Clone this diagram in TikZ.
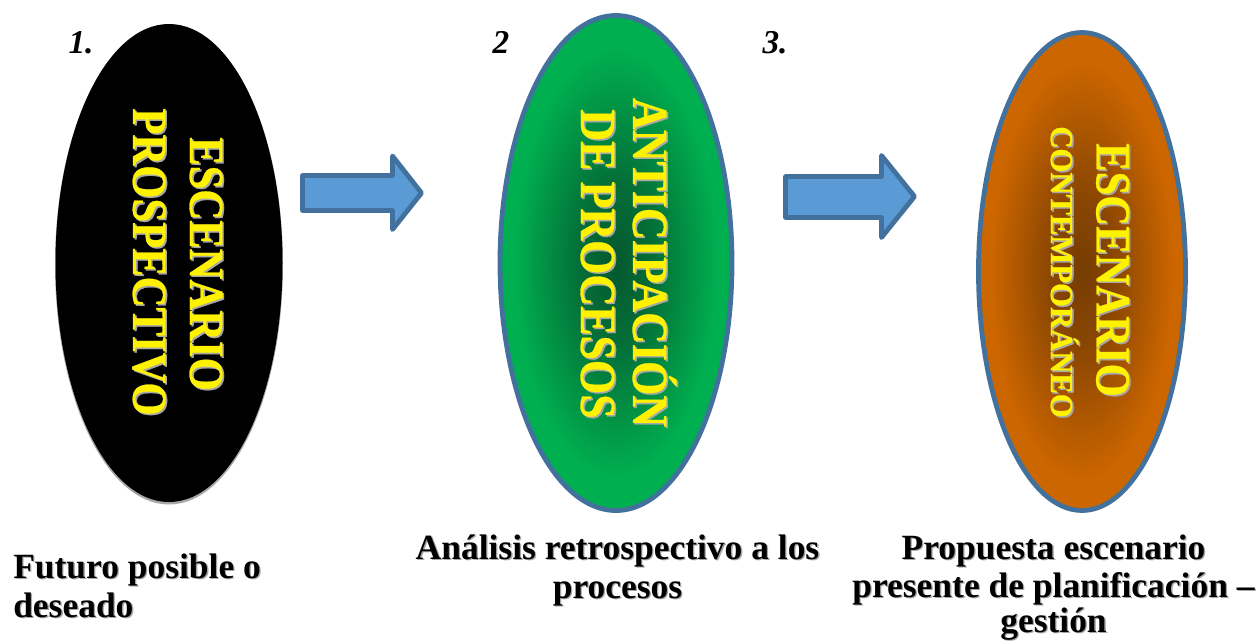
\documentclass[tikz,border=0pt]{standalone}
\usepackage{fontspec}
\setmainfont{Liberation Serif}
\usetikzlibrary{shapes.geometric}
\definecolor{edgeblue}{HTML}{41719C}
\definecolor{arrowblue}{HTML}{5B9BD5}
\definecolor{greenout}{HTML}{00B050}
\definecolor{greenin}{HTML}{05582F}
\definecolor{brownout}{HTML}{CC6600}
\definecolor{brownin}{HTML}{753C02}
\definecolor{shadowgrey}{HTML}{A8A8A8}
\newfontface\heavyface[FakeBold=0.6]{Liberation Serif Bold}
\pgfdeclareradialshading{greenglow}{\pgfpoint{0bp}{0bp}}{color(0bp)=(greenin); color(8bp)=(greenin!75!greenout); color(22bp)=(greenout); color(50bp)=(greenout)}
\pgfdeclareradialshading{brownglow}{\pgfpoint{0bp}{0bp}}{color(0bp)=(brownin); color(8bp)=(brownin!75!brownout); color(22bp)=(brownout); color(50bp)=(brownout)}
\tikzset{
  x=0.75pt,y=-0.75pt,
  oval/.style={shape=ellipse,inner sep=0pt,outer sep=0pt},
  flow/.style={draw=edgeblue,fill=arrowblue,line width=3.6pt,line join=round},
  vtext/.style={rotate=-90,anchor=center,inner sep=0pt,text=yellow},
  vshadow/.style={vtext,text=shadowgrey},
  num/.style={inner sep=0pt,anchor=base,font=\bfseries\itshape\fontsize{25}{30}\selectfont},
  caption/.style={inner sep=0pt,anchor=base,font=\bfseries\fontsize{26.6}{32}\selectfont},
  capshadow/.style={caption,text=black!35},
}
\newcommand{\vlabel}[6]{%
  \node[vshadow,font=\heavyface\fontsize{#4}{#4}\selectfont] at (#2+1.6,#3+1.6) {\scalebox{1}[#6]{#5}};
  \node[vtext,font=\heavyface\fontsize{#4}{#4}\selectfont] (#1) at (#2,#3) {\scalebox{1}[#6]{#5}};}
\newcommand{\caplabel}[5]{%
  \node[capshadow,#4] at (#2+1.3,#3+1.3) {#5};
  \node[caption,#4] (#1) at (#2,#3) {#5};}
\begin{document}
\begin{tikzpicture}
\useasboundingbox (0,0) rectangle (1258,643);
% ovals
\node[oval,fill=shadowgrey,minimum width=228*0.75pt,minimum height=480*0.75pt] at (169,264.5) {};
\node[oval,fill=black,minimum width=227*0.75pt,minimum height=478*0.75pt] (o1) at (169,263) {};
\node[oval,draw=edgeblue,line width=3.6pt,shading=greenglow,minimum width=232*0.75pt,minimum height=495*0.75pt] (o2) at (616,263) {};
\node[oval,draw=edgeblue,line width=3.6pt,shading=brownglow,minimum width=207*0.75pt,minimum height=478*0.75pt] (o3) at (1082,271.5) {};
% arrows
\draw[flow] (302.5,175.5) -- (392.5,175.5) -- (392.5,156) -- (421.5,193) -- (392.5,229.5) -- (392.5,210.5) -- (302.5,210.5) -- cycle;
\draw[flow] (785.5,176.5) -- (881.5,176.5) -- (881.5,155.5) -- (914.5,196.5) -- (881.5,237.5) -- (881.5,217.5) -- (785.5,217.5) -- cycle;
% vertical labels
\vlabel{t1}{206}{264}{32}{ESCENARIO}{1.15}
\vlabel{t2}{149}{262}{32}{PROSPECTIVO}{1.15}
\vlabel{t3}{654.5}{262.5}{33}{ANTICIPACIÓN}{1.15}
\vlabel{t4}{597.5}{264}{33}{DE PROCESOS}{1.15}
\vlabel{t5}{1112.5}{270}{32}{ESCENARIO}{1.15}
\vlabel{t6}{1064.5}{272}{23}{CONTEMPORÁNEO}{1.05}
% numbers
\node[num] (n1) at (81,53) {1.};
\node[num] (n2) at (501,53) {2};
\node[num] (n3) at (775,53) {3.};
% captions
\caplabel{c1}{13}{578}{anchor=base west}{Futuro posible o}
\caplabel{c1b}{13}{617}{anchor=base west}{deseado}
\caplabel{c2}{617.5}{559}{}{Análisis retrospectivo a los}
\caplabel{c2b}{617.5}{598}{}{procesos}
\caplabel{c3}{1053.5}{559}{}{Propuesta escenario}
\caplabel{c3b}{1053.5}{597}{}{presente de planificación –}
\caplabel{c3c}{1053.5}{632.5}{}{gestión}
\end{tikzpicture}
\end{document}
